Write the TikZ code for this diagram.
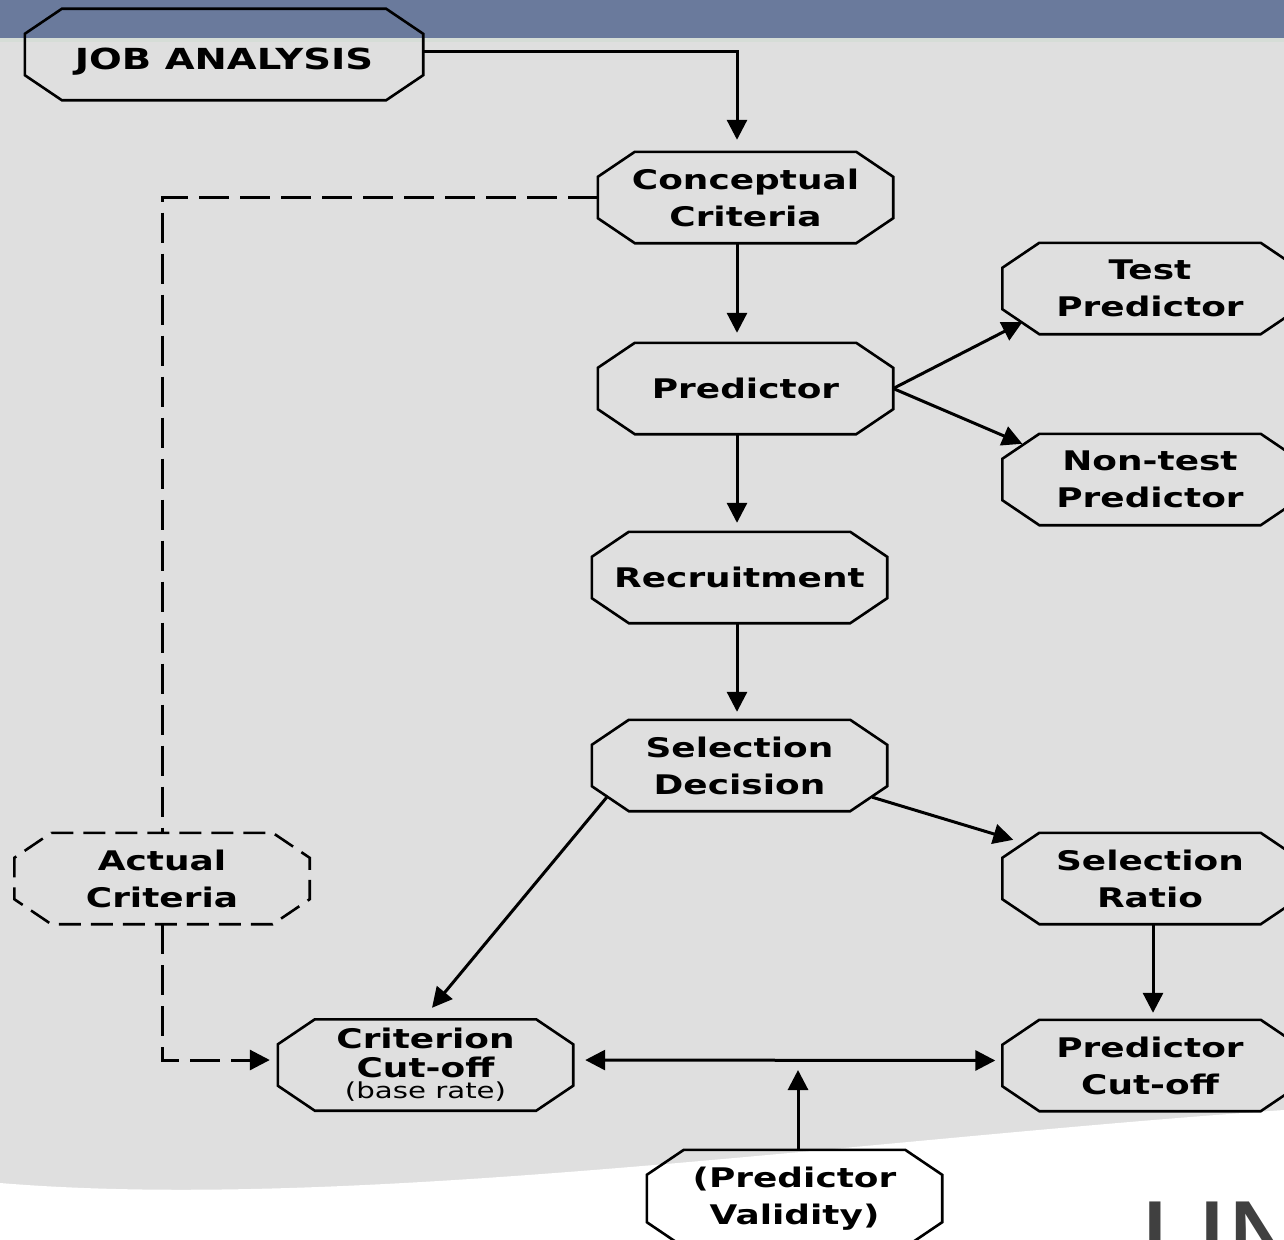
\documentclass[tikz,border=0pt]{standalone}
\usepackage{fontspec}
\usetikzlibrary{arrows.meta,calc}
\newfontfamily\boxfont{DejaVu Sans}[FakeStretch=1.33]
\newfontfamily\logofont{Liberation Sans}
\definecolor{bgGray}{HTML}{DFDFDF}
\definecolor{barBlue}{HTML}{6A7A9C}
\definecolor{barEdge}{HTML}{D6DDD7}
\definecolor{logoGray}{HTML}{404040}

\tikzset{
  box/.style={minimum width=295pt, minimum height=91pt, inner sep=0pt, align=center,
    font=\boxfont\bfseries\fontsize{27}{37}\selectfont},
  octline/.style={line width=2.6pt, line join=miter},
  link/.style={line width=3pt, -{Triangle[length=20pt,width=20pt]}},
  dashlink/.style={line width=3pt, dash pattern=on 30pt off 11pt},
}

\begin{document}
\begin{tikzpicture}[x=1pt,y=-1pt]
\useasboundingbox (0,0) rectangle (1284,1239);
\clip (0,0) rectangle (1284,1239);

% backdrop: grey page, blue title bar, white sweep at the foot
\fill[bgGray] (0,0) rectangle (1284,1239);
\fill[barBlue] (0,0) rectangle (1284,38);
\fill[barEdge] (0,38) rectangle (1284,42);
\fill[white] (0,1183) .. controls (350,1212) and (850,1140) .. (1284,1110)
  -- (1284,1239) -- (0,1239) -- cycle;
\node[font=\logofont\fontsize{120}{120}\selectfont, text=logoGray, anchor=base west,
  inner sep=0pt] (logo) at (1140,1284) {UN};

% boxes
\node[box, minimum width=398pt, font=\boxfont\bfseries\fontsize{29}{37}\selectfont]
  (job) at (224,54.5) {\raisebox{-4pt}[\height][0pt]{JOB ANALYSIS}};
\node[box] (concept)  at (745.5,197.5) {Conceptual\\Criteria};
\node[box] (pred)     at (745.5,388.5) {Predictor};
\node[box] (recruit)  at (739.5,577.5) {Recruitment};
\node[box] (seldec)   at (739.5,765.5) {Selection\\Decision};
\node[box] (test)     at (1150,288.5)  {Test\\Predictor};
\node[box] (nontest)  at (1150,479.5)  {Non-test\\Predictor};
\node[box] (selratio) at (1150,878.5)  {Selection\\Ratio};
\node[box] (predcut)  at (1150,1065.5) {Predictor\\Cut-off};
\node[box, font=\boxfont\bfseries\fontsize{27}{29}\selectfont] (critcut) at (425.5,1065)
  {Criterion\\Cut-off\\[-8pt]{\mdseries\fontsize{22}{22}\selectfont(base rate)}};
\node[box] (actual)   at (162,878.5)   {Actual\\Criteria};
\node[box, minimum height=97pt] (valid) at (794.5,1198.5) {(Predictor\\Validity)};

% octagonal outlines
\foreach \n in {job,concept,pred,recruit,seldec,test,nontest,selratio,predcut,critcut,valid}
  \draw[octline] ([xshift=37pt]\n.north west) -- ([xshift=-37pt]\n.north east)
    -- ([yshift=-25pt]\n.north east) -- ([yshift=25pt]\n.south east)
    -- ([xshift=-37pt]\n.south east) -- ([xshift=37pt]\n.south west)
    -- ([yshift=25pt]\n.south west) -- ([yshift=-25pt]\n.north west) -- cycle;
\draw[octline, dash pattern=on 22pt off 10pt]
  ([xshift=37pt]actual.north west) -- ([xshift=-37pt]actual.north east)
    -- ([yshift=-25pt]actual.north east) -- ([yshift=25pt]actual.south east)
    -- ([xshift=-37pt]actual.south east) -- ([xshift=37pt]actual.south west)
    -- ([yshift=25pt]actual.south west) -- ([yshift=-25pt]actual.north west) -- cycle;

% connectors
\coordinate (spine) at (737,0);
\coordinate (vmeet) at (798,1060);
\draw[link, shorten >=12pt] ([yshift=2.5pt]job.east) -| (concept.north -| spine);
\draw[link, shorten >=10pt] (concept.south -| spine) -- (pred.north -| spine);
\draw[link, shorten >=9pt] (pred.south -| spine) -- (recruit.north -| spine);
\draw[link, shorten >=8pt] (recruit.south -| spine) -- (seldec.north -| spine);
\draw[link] (pred.east) -- ([shift={(20pt,12pt)}]test.south west);
\draw[link] (pred.east) -- ([shift={(20pt,-10pt)}]nontest.north west);
\draw[link] ([shift={(-15pt,14pt)}]seldec.south east) -- ([shift={(11pt,-7pt)}]selratio.north west);
\draw[link] ([shift={(15pt,14pt)}]seldec.south west) -- ([shift={(6.5pt,11.5pt)}]critcut.north);
\draw[link, shorten >=7pt] ([xshift=3pt]selratio.south) -- ([xshift=3pt]predcut.north);
\draw[line width=3pt, {Triangle[length=20pt,width=20pt]}-{Triangle[length=20pt,width=20pt]},
  shorten <=12pt, shorten >=7pt] ([yshift=5pt]critcut.east) -- ([yshift=5pt]predcut.west);
\draw[link, shorten >=10pt] (valid.north -| vmeet) -- (vmeet);
\draw[dashlink] (concept.west) -| (actual.north);
\draw[dashlink, -{Triangle[length=20pt,width=20pt]}, shorten >=8pt]
  (actual.south) |- ([yshift=5pt]critcut.west);
\end{tikzpicture}
\end{document}
